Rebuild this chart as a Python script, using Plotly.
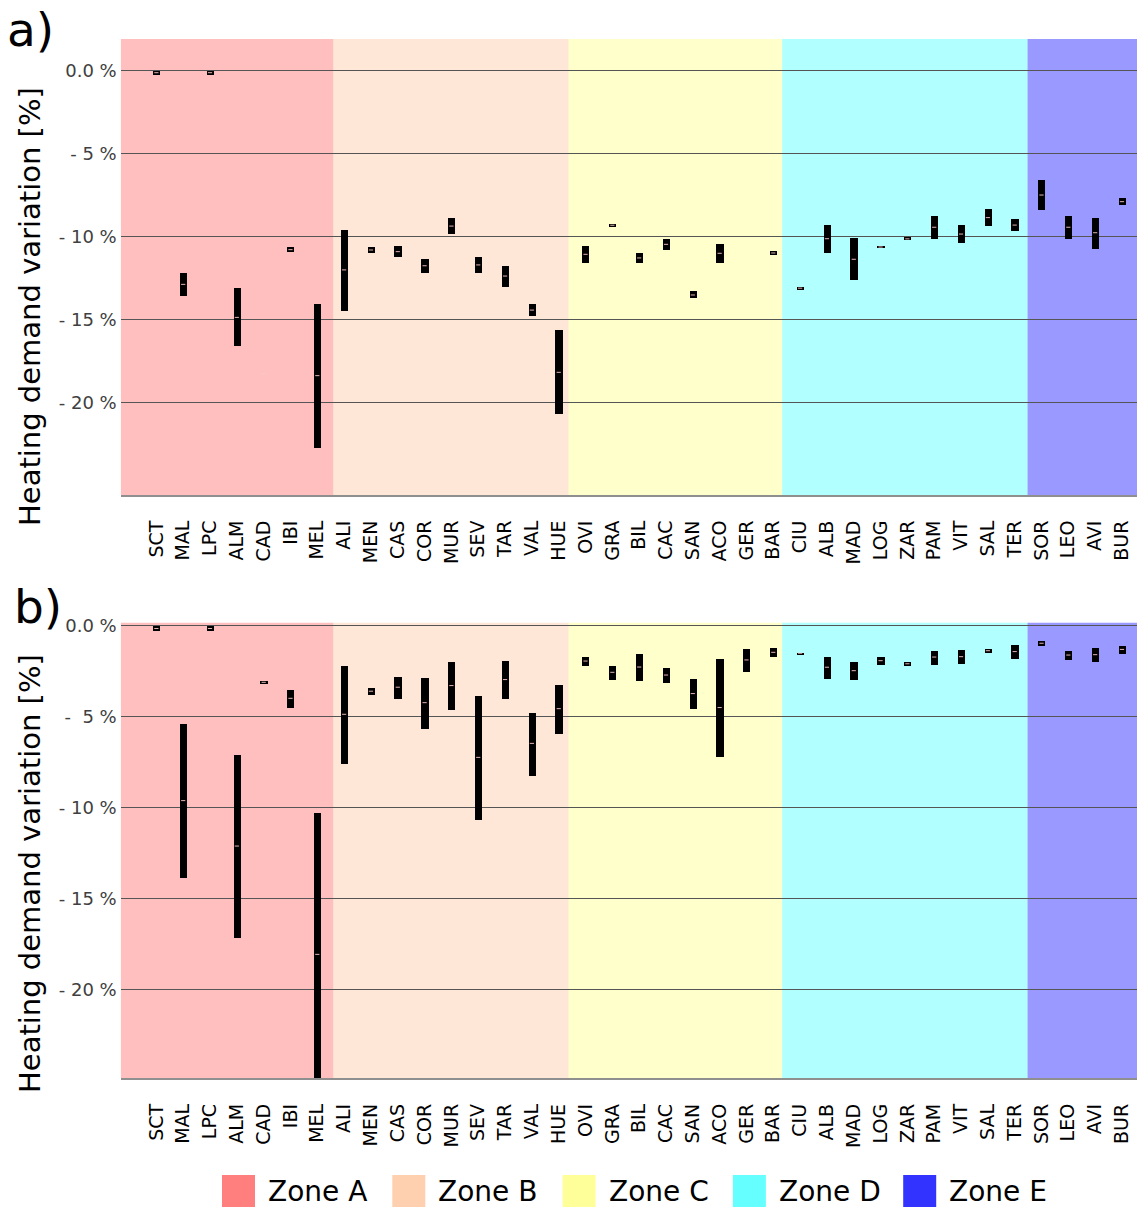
import plotly.graph_objects as go

# ---------------- data ----------------
categories = ["SCT", "MAL", "LPC", "ALM", "CAD", "IBI", "MEL",
              "ALI", "MEN", "CAS", "COR", "MUR", "SEV", "TAR", "VAL", "HUE",
              "OVI", "GRA", "BIL", "CAC", "SAN", "ACO", "GER", "BAR",
              "CIU", "ALB", "MAD", "LOG", "ZAR", "PAM", "VIT", "SAL", "TER",
              "SOR", "LEO", "AVI", "BUR"]

zone_names = ["Zone A", "Zone B", "Zone C", "Zone D", "Zone E"]

# panel a) heating demand variation [%]: upper end, lower end, median
a_max = [0.0, -12.2, 0.0, -13.1, -18.27, -10.64, -14.05,
         -9.6, -10.64, -10.56, -11.33, -8.89, -11.24, -11.75, -14.05, -15.62,
         -10.56, -9.22, -10.96, -10.12, -13.29, -10.46, None, -10.88,
         -13.03, -9.28, -10.1, -10.54, -10.04, -8.77, -9.31, -8.33, -8.95,
         -6.6, -8.73, -8.85, -7.69]
a_min = [-0.25, -13.55, -0.25, -16.6, -18.27, -10.9, -22.7,
         -14.48, -10.96, -11.2, -12.17, -9.82, -12.17, -13.0, -14.78, -20.7,
         -11.6, -9.4, -11.6, -10.82, -13.71, -11.6, None, -11.08,
         -13.19, -11.0, -12.61, -10.7, -10.22, -10.14, -10.38, -9.37, -9.67,
         -8.41, -10.16, -10.72, -8.07]
a_med = [-0.12, -12.87, -0.12, -14.86, -18.27, -10.78, -18.37,
         -12.0, -10.8, -10.9, -11.75, -9.36, -11.7, -12.37, -14.42, -18.17,
         -11.06, -9.31, -11.28, -10.46, -13.51, -11.0, None, -10.98,
         -13.1, -10.12, -11.36, -10.62, -10.13, -9.43, -9.84, -8.85, -9.3,
         -7.49, -9.43, -9.76, -7.89]

# panel b)
b_max = [0.0, -5.37, 0.0, -7.08, -3.03, -3.49, -10.27,
         -2.18, -3.39, -2.79, -2.84, -1.98, -3.83, -1.93, -4.75, -3.23,
         -1.69, -2.18, -1.52, -2.31, -2.92, -1.82, -1.27, -1.19,
         -1.45, -1.69, -1.94, -1.69, -1.96, -1.34, -1.3, -1.27, -1.03,
         -0.81, -1.38, -1.21, -1.06]
b_min = [-0.28, -13.85, -0.28, -17.14, -3.17, -4.48, -25.5,
         -7.6, -3.78, -4.02, -5.63, -4.6, -10.66, -4.02, -8.24, -5.91,
         -2.17, -2.95, -3.01, -3.1, -4.55, -7.21, -2.51, -1.69,
         -1.56, -2.9, -2.97, -2.13, -2.2, -2.11, -2.07, -1.45, -1.8,
         -1.08, -1.83, -1.96, -1.52]
b_med = [-0.14, -9.61, -0.14, -12.11, -3.1, -3.98, -18.07,
         -4.86, -3.59, -3.37, -4.22, -3.28, -7.23, -2.95, -6.46, -4.55,
         -1.93, -2.55, -2.26, -2.7, -3.72, -4.49, -1.87, -1.45,
         -1.5, -2.27, -2.46, -1.91, -2.08, -1.71, -1.69, -1.36, -1.41,
         -0.95, -1.6, -1.58, -1.29]

y_tickvals = [0, -5, -10, -15, -20]
a_ticktext = ["0.0 %", "- 5 %", "- 10 %", "- 15 %", "- 20 %"]
b_ticktext = ["0.0 %", "-\u00a0\u00a05 %", "- 10 %", "- 15 %", "- 20 %"]

# ---------------- style / layout ----------------
W, H = 1137, 1207
FONT = "DejaVu Sans"
zone_colors = ["#FF7F7F", "#FFD0B0", "#FFFF99", "#66FFFF", "#3333FF"]
zone_edges = [-1.33, 6.6, 15.37, 23.33, 32.48, 36.6]
x_range = [-1.33, 36.56]
x_dom = [120.7 / W, 1.0]


def py(pix):
    return 1 - pix / H


def px(pix):
    return pix / W


idx = list(range(len(categories)))
fig = go.Figure()

panels = [
    (a_max, a_min, a_med, "x", "y"),
    (b_max, b_min, b_med, "x2", "y2"),
]
for mx, mn, md, xa, ya in panels:
    heights = [None if (u is None or l is None) else u - l for u, l in zip(mx, mn)]
    fig.add_trace(go.Bar(
        x=idx, y=heights, base=mn, width=0.27,
        marker=dict(color="black", line=dict(width=0)),
        xaxis=xa, yaxis=ya, showlegend=False, hoverinfo="skip"))
    fig.add_trace(go.Scatter(
        x=idx, y=md, mode="markers",
        marker=dict(symbol="line-ew", size=3,
                    line=dict(color="rgba(255,200,200,0.9)", width=1)),
        xaxis=xa, yaxis=ya, showlegend=False, hoverinfo="skip"))

# zone backgrounds
shapes = []
for xref, yref in [("x", "y domain"), ("x2", "y2 domain")]:
    for i, c in enumerate(zone_colors):
        shapes.append(dict(type="rect", xref=xref, yref=yref,
                           x0=zone_edges[i], x1=zone_edges[i + 1], y0=0, y1=1,
                           fillcolor=c, opacity=0.5, line=dict(width=0),
                           layer="below"))

annotations = []
# panel letters
annotations.append(dict(text="a)", x=px(5), y=py(30), xref="paper", yref="paper",
                        xanchor="left", yanchor="middle", showarrow=False,
                        font=dict(family=FONT, size=47, color="black")))
annotations.append(dict(text="b)", x=px(12), y=py(606), xref="paper", yref="paper",
                        xanchor="left", yanchor="middle", showarrow=False,
                        font=dict(family=FONT, size=47, color="black")))
# y titles
for yc in [307, 874]:
    annotations.append(dict(text="Heating demand variation [%]", x=px(30), y=py(yc),
                            xref="paper", yref="paper", textangle=-90,
                            xanchor="center", yanchor="middle", showarrow=False,
                            font=dict(family=FONT, size=29, color="black")))

# custom legend
for i, (name, c) in enumerate(zip(zone_names, zone_colors)):
    x0 = 222 + i * 170.3
    shapes.append(dict(type="rect", xref="paper", yref="paper",
                       x0=px(x0), x1=px(x0 + 33), y0=py(1207), y1=py(1175),
                       fillcolor=c, line=dict(width=0)))
    annotations.append(dict(text=name, x=px(x0 + 44), y=py(1191),
                            xref="paper", yref="paper", xanchor="left",
                            yanchor="middle", showarrow=False,
                            font=dict(family=FONT, size=28, color="black")))

xaxis_common = dict(range=x_range, tickmode="array", tickvals=idx,
                    ticktext=categories, tickangle=-90, showgrid=False,
                    zeroline=False, showline=True, linecolor="#8f8f8f",
                    linewidth=2, ticks="", ticklabelstandoff=16,
                    automargin=False,
                    tickfont=dict(family=FONT, size=19, color="black"),
                    domain=x_dom, fixedrange=True)
yaxis_common = dict(tickmode="array", tickvals=y_tickvals, showgrid=True,
                    gridcolor="#555555", gridwidth=1, zeroline=False,
                    showline=False, ticks="", ticklabelstandoff=3,
                    automargin=False,
                    tickfont=dict(family=FONT, size=18, color="#404040"))

fig.update_layout(
    width=W, height=H,
    margin=dict(l=0, r=0, t=0, b=0, autoexpand=False),
    paper_bgcolor="white", plot_bgcolor="white",
    showlegend=False,
    xaxis=dict(xaxis_common, anchor="y"),
    xaxis2=dict(xaxis_common, anchor="y2"),
    yaxis=dict(yaxis_common, range=[-25.56, 1.91], ticktext=a_ticktext,
               domain=[py(495), py(39)], anchor="x"),
    yaxis2=dict(yaxis_common, range=[-24.89, 0.18], ticktext=b_ticktext,
                domain=[py(1078.3), py(622.7)], anchor="x2"),
    shapes=shapes, annotations=annotations,
    bargap=0,
)

fig.write_html("out.html", config={"displayModeBar": False},
               post_script="document.body.style.margin='0';")
